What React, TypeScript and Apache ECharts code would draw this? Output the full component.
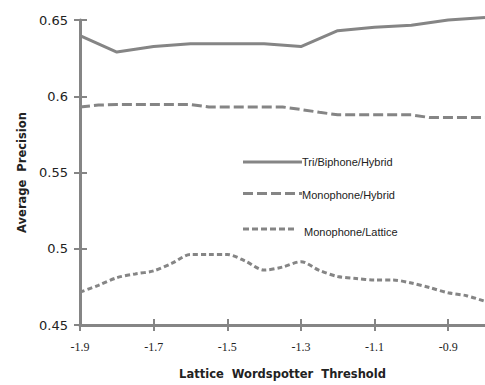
import React, { useEffect, useRef } from "react";
import * as echarts from "echarts";

const xTickLabels = [-1.9, -1.7, -1.5, -1.3, -1.1, -0.9];
const yTickLabels = [0.45, 0.5, 0.55, 0.6, 0.65];

const triX = [-1.9, -1.8, -1.7, -1.6, -1.5, -1.4, -1.3, -1.2, -1.1, -1.0, -0.9, -0.8];
const triY = [0.6397, 0.629, 0.6326, 0.6345, 0.6345, 0.6345, 0.6326, 0.643, 0.6453, 0.6466, 0.65, 0.6517];

const fineX = [
  -1.9, -1.85, -1.8, -1.75, -1.7, -1.65, -1.6, -1.55, -1.5, -1.45, -1.4, -1.35,
  -1.3, -1.25, -1.2, -1.15, -1.1, -1.05, -1.0, -0.95, -0.9, -0.85, -0.8,
];
const monoHybridY = [
  0.593, 0.5942, 0.5946, 0.5946, 0.5946, 0.5946, 0.5946, 0.593, 0.593, 0.593, 0.593, 0.593,
  0.5913, 0.5895, 0.5878, 0.5878, 0.5878, 0.5878, 0.5878, 0.586, 0.586, 0.586, 0.586,
];
const monoLatticeY = [
  0.4715, 0.476, 0.481, 0.4835, 0.4855, 0.4905, 0.4962, 0.4962, 0.4962, 0.4918, 0.486, 0.488,
  0.4915, 0.4858, 0.4818, 0.4805, 0.4795, 0.4795, 0.4775, 0.4745, 0.4711, 0.4692, 0.4655,
];

const seriesNames = ["Tri/Biphone/Hybrid", "Monophone/Hybrid", "Monophone/Lattice"];

const GRAY = "#858585";

export default function App() {
  const ref = useRef<HTMLDivElement>(null);
  useEffect(() => {
    if (!ref.current) return;
    const chart = echarts.init(ref.current, undefined, { renderer: "svg" });
    const pair = (xs: number[], ys: number[]) => xs.map((x, i) => [x, ys[i]]);
    const lineBase = { type: "line", symbol: "none", clip: false, xAxisIndex: 0, yAxisIndex: 0 };
    chart.setOption({
      animation: false,
      backgroundColor: "#fff",
      grid: { left: 80, right: 0, top: 20, bottom: 55, containLabel: false },
      xAxis: [
        {
          type: "value",
          min: -1.9,
          max: -0.8,
          name: "Lattice  Wordspotter  Threshold",
          nameLocation: "middle",
          nameGap: 43,
          nameTextStyle: { fontFamily: "DejaVu Sans", fontWeight: "bold", fontSize: 11.5, color: "#222" },
          axisLine: { show: true, lineStyle: { color: GRAY, width: 3 } },
          axisTick: { show: true, inside: false, length: 6, customValues: xTickLabels, lineStyle: { color: GRAY, width: 2 } },
          axisLabel: { customValues: xTickLabels, margin: 16, fontFamily: "Liberation Serif", fontSize: 12, color: "#222" },
          splitLine: { show: false },
        },
        {
          type: "value",
          min: -1.9,
          max: -0.8,
          position: "bottom",
          offset: 0,
          axisLine: { show: false },
          axisTick: { show: true, inside: true, length: 6, customValues: xTickLabels, lineStyle: { color: GRAY, width: 2 } },
          axisLabel: { show: false },
          splitLine: { show: false },
        },
      ],
      yAxis: [
        {
          type: "value",
          min: 0.45,
          max: 0.65,
          interval: 0.05,
          name: "Average  Precision",
          nameLocation: "middle",
          nameGap: 52,
          nameTextStyle: { fontFamily: "DejaVu Sans", fontWeight: "bold", fontSize: 11.5, color: "#222" },
          axisLine: { show: true, lineStyle: { color: GRAY, width: 3 } },
          axisTick: { show: true, inside: false, length: 6, lineStyle: { color: GRAY, width: 2 } },
          axisLabel: { margin: 12, fontFamily: "DejaVu Sans", fontSize: 13, color: "#222" },
          splitLine: { show: false },
        },
        {
          type: "value",
          min: 0.45,
          max: 0.65,
          interval: 0.05,
          position: "left",
          offset: 0,
          axisLine: { show: false },
          axisTick: { show: true, inside: true, length: 7, lineStyle: { color: GRAY, width: 2 } },
          axisLabel: { show: false },
          splitLine: { show: false },
        },
      ],
      series: [
        {
          ...lineBase,
          name: seriesNames[0],
          data: pair(triX, triY),
          lineStyle: { color: GRAY, width: 3, type: "solid" },
        },
        {
          ...lineBase,
          name: seriesNames[1],
          data: pair(fineX, monoHybridY),
          lineStyle: { color: GRAY, width: 3, type: [10, 4] },
        },
        {
          ...lineBase,
          name: seriesNames[2],
          data: pair(fineX, monoLatticeY),
          smooth: 0.3,
          lineStyle: { color: GRAY, width: 3, type: [5, 3] },
        },
      ],
      graphic: [
        { type: "line", shape: { x1: 243, y1: 162, x2: 302, y2: 162 }, style: { stroke: GRAY, lineWidth: 3 } },
        { type: "text", x: 302, y: 162, style: { text: seriesNames[0], fontFamily: "Liberation Sans", fontSize: 11, fill: "#222", verticalAlign: "middle" } },
        { type: "line", shape: { x1: 243, y1: 193.5, x2: 302, y2: 193.5 }, style: { stroke: GRAY, lineWidth: 3, lineDash: [10, 4] } },
        { type: "text", x: 302, y: 195, style: { text: seriesNames[1], fontFamily: "Liberation Sans", fontSize: 11, fill: "#222", verticalAlign: "middle" } },
        { type: "line", shape: { x1: 243, y1: 229, x2: 294, y2: 229 }, style: { stroke: GRAY, lineWidth: 3, lineDash: [6, 3] } },
        { type: "text", x: 304, y: 231.5, style: { text: seriesNames[2], fontFamily: "Liberation Sans", fontSize: 11, fill: "#222", verticalAlign: "middle" } },
      ],
    });
    return () => chart.dispose();
  }, []);
  return <div ref={ref} style={{ position: "absolute", left: 0, top: 0, width: 485, height: 385 }} />;
}
